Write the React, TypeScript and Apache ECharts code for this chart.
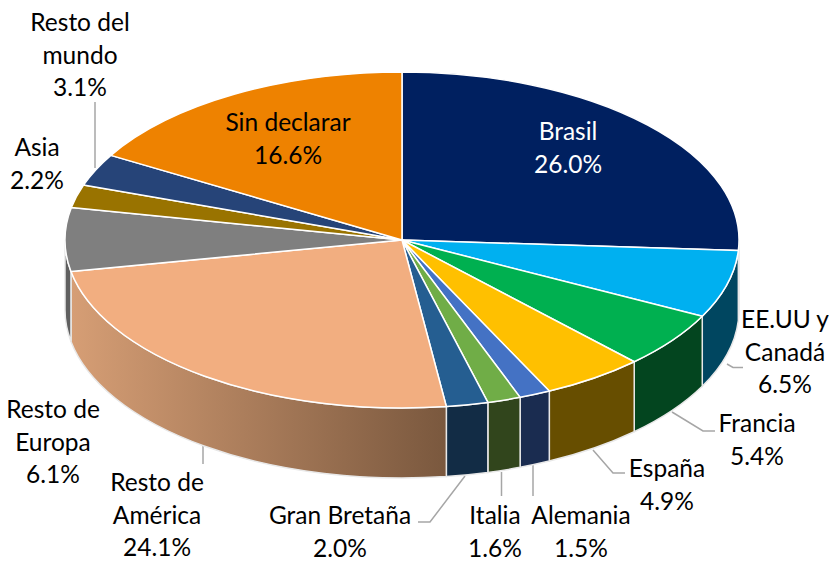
import React, { useEffect, useRef } from "react";
import * as echarts from "echarts";

const names = ["Brasil","EE.UU y\nCanadá","Francia","España","Alemania","Italia","Gran Bretaña","Resto de\nAmérica","Resto de\nEuropa","Asia","Resto del\nmundo","Sin declarar"];
const values = [26.0,6.5,5.4,4.9,1.5,1.6,2.0,24.1,6.1,2.2,3.1,16.6];
const topColors = ["#002060","#00b0f0","#00b050","#ffc000","#4472c4","#70ad47","#255e91","#f2ae80","#7f7f7f","#997300","#264478","#ee8200"];
const wallColors = ["#001540","#004660","#03451f","#674e00","#1a2c50","#31451c","#122c45","#b08060","#5f5f5f","#5f4800","#18294a","#8f4f00"];
const labelCenters = [[568,147],[785,351],[757,439],[667,484],[581,531],[495,531],[340,531],[157,514],[53,441],[37,163],[80,54],[288,138]];
const leaders = [
  [[95,102],[95,168]],
  [[727,364],[733,367.5],[743,367.5]],
  [[672,412],[703,431],[715,431]],
  [[593,450],[613,473],[625,473]],
  [[533,465],[533,496]],
  [[501.5,472],[501.5,496]],
  [[465,476],[430,522],[418,522]],
  [[203,445],[203,464]],
];

const CX = 402, CY = 240, RX = 337, RY = 168, DEPTH = 70;
const total = values.reduce((a, b) => a + b, 0);
const pt = (deg: number) => {
  const r = (deg * Math.PI) / 180;
  return [CX + RX * Math.sin(r), CY - RY * Math.cos(r)];
};
const range = (i: number) => {
  let s = 0;
  for (let k = 0; k < i; k++) s += values[k];
  return [(s / total) * 360, ((s + values[i]) / total) * 360];
};
const topPath = (a0: number, a1: number) => {
  const p0 = pt(a0), p1 = pt(a1);
  return `M${CX} ${CY}L${p0[0]} ${p0[1]}A${RX} ${RY} 0 ${a1 - a0 > 180 ? 1 : 0} 1 ${p1[0]} ${p1[1]}Z`;
};
const wallPath = (a0: number, a1: number) => {
  const p0 = pt(a0), p1 = pt(a1);
  return `M${p0[0]} ${p0[1]}A${RX} ${RY} 0 0 1 ${p1[0]} ${p1[1]}L${p1[0]} ${p1[1] + DEPTH}A${RX} ${RY} 0 0 0 ${p0[0]} ${p0[1] + DEPTH}Z`;
};
const FONT = "Lato, sans-serif";

export default function App() {
  const ref = useRef<HTMLDivElement>(null);
  useEffect(() => {
    document.body.style.margin = "0";
    const chart = echarts.init(ref.current!, null, { renderer: "svg" });
    const data = values.map((v, i) => ({ name: names[i].replace("\n", " "), value: v }));
    chart.setOption({
      animation: false,
      backgroundColor: "#ffffff",
      graphic: leaders.map((pts) => ({
        type: "polyline",
        z: 0,
        shape: { points: pts },
        style: { stroke: "#a6a6a6", lineWidth: 1.5, fill: "none" },
      })),
      series: [
        {
          type: "custom",
          coordinateSystem: "none",
          z: 2,
          data,
          renderItem: (params: any) => {
            const i = params.dataIndex;
            const [s, e] = range(i);
            const a0 = Math.max(s, 90), a1 = Math.min(e, 270);
            if (a1 <= a0) return { type: "group", children: [] };
            const fill = i === 7
              ? new echarts.graphic.LinearGradient(0, 0, 1, 0, [
                  { offset: 0, color: "#d69e75" },
                  { offset: 1, color: "#7a583e" },
                ])
              : wallColors[i];
            return {
              type: "path",
              shape: { pathData: wallPath(a0, a1) },
              style: { fill, stroke: "#e8e8e8", lineWidth: 1.5 },
            };
          },
        },
        {
          type: "custom",
          coordinateSystem: "none",
          z: 3,
          data,
          renderItem: (params: any) => {
            const i = params.dataIndex;
            const [s, e] = range(i);
            return {
              type: "path",
              shape: { pathData: topPath(s, e) },
              style: { fill: topColors[i], stroke: "#ffffff", lineWidth: 1.5, lineJoin: "round" },
            };
          },
        },
        {
          type: "custom",
          coordinateSystem: "none",
          z: 4,
          data,
          silent: true,
          renderItem: (params: any, api: any) => {
            const i = params.dataIndex;
            const [x, y] = labelCenters[i];
            return {
              type: "text",
              x,
              y,
              style: {
                text: `${names[i]}\n${api.value(0).toFixed(1)}%`,
                fill: i === 0 ? "#ffffff" : "#000000",
                font: `24.5px ${FONT}`,
                lineHeight: 32.5,
                align: "center",
                verticalAlign: "middle",
              },
            };
          },
        },
      ],
    });
    return () => chart.dispose();
  }, []);
  return <div ref={ref} style={{ width: 829, height: 561 }} />;
}
